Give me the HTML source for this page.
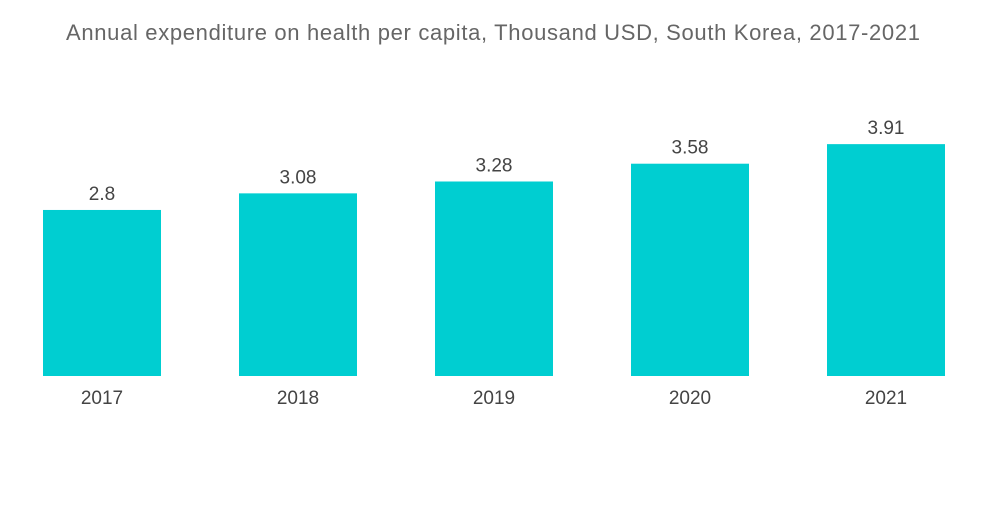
<!DOCTYPE html>
<html><head><meta charset="utf-8"><style>
body{margin:0;background:#fff;width:1000px;height:504px;overflow:hidden;font-family:"Liberation Sans",sans-serif}
</style></head><body>
<svg width="1000" height="504">
<text x="493" y="40" text-anchor="middle" font-size="22" textLength="854" lengthAdjust="spacing" fill="#666">Annual expenditure on health per capita, Thousand USD, South Korea, 2017-2021</text>
<g id="bars"></g>
</svg>
<script>
const categories=["2017","2018","2019","2020","2021"];
const values=[2.8,3.08,3.28,3.58,3.91];
const valueLabels=["2.8","3.08","3.28","3.58","3.91"];
const base=376, scale=59.3, x0=43, step=196, bw=118;
const y=v=>base-v*scale;
const x=i=>x0+i*step;
const g=document.getElementById('bars');
const ns="http://www.w3.org/2000/svg";
categories.forEach((c,i)=>{
  const r=document.createElementNS(ns,'rect');
  r.setAttribute('x',x(i));r.setAttribute('y',y(values[i]));
  r.setAttribute('width',bw);r.setAttribute('height',base-y(values[i]));
  r.setAttribute('fill','#00ced1');
  
  
  g.appendChild(r);
  const t=document.createElementNS(ns,'text');
  t.setAttribute('x',x(i)+bw/2);t.setAttribute('y',y(values[i])-10);
  t.setAttribute('text-anchor','middle');t.setAttribute('font-size','19');t.setAttribute('fill','#444');
  t.textContent=valueLabels[i];
  
  
  g.appendChild(t);
  const l=document.createElementNS(ns,'text');
  l.setAttribute('x',x(i)+bw/2);l.setAttribute('y',404);
  l.setAttribute('text-anchor','middle');l.setAttribute('font-size','19');l.setAttribute('fill','#444');
  l.textContent=c;
  
  
  g.appendChild(l);
});
</script>
</body></html>
